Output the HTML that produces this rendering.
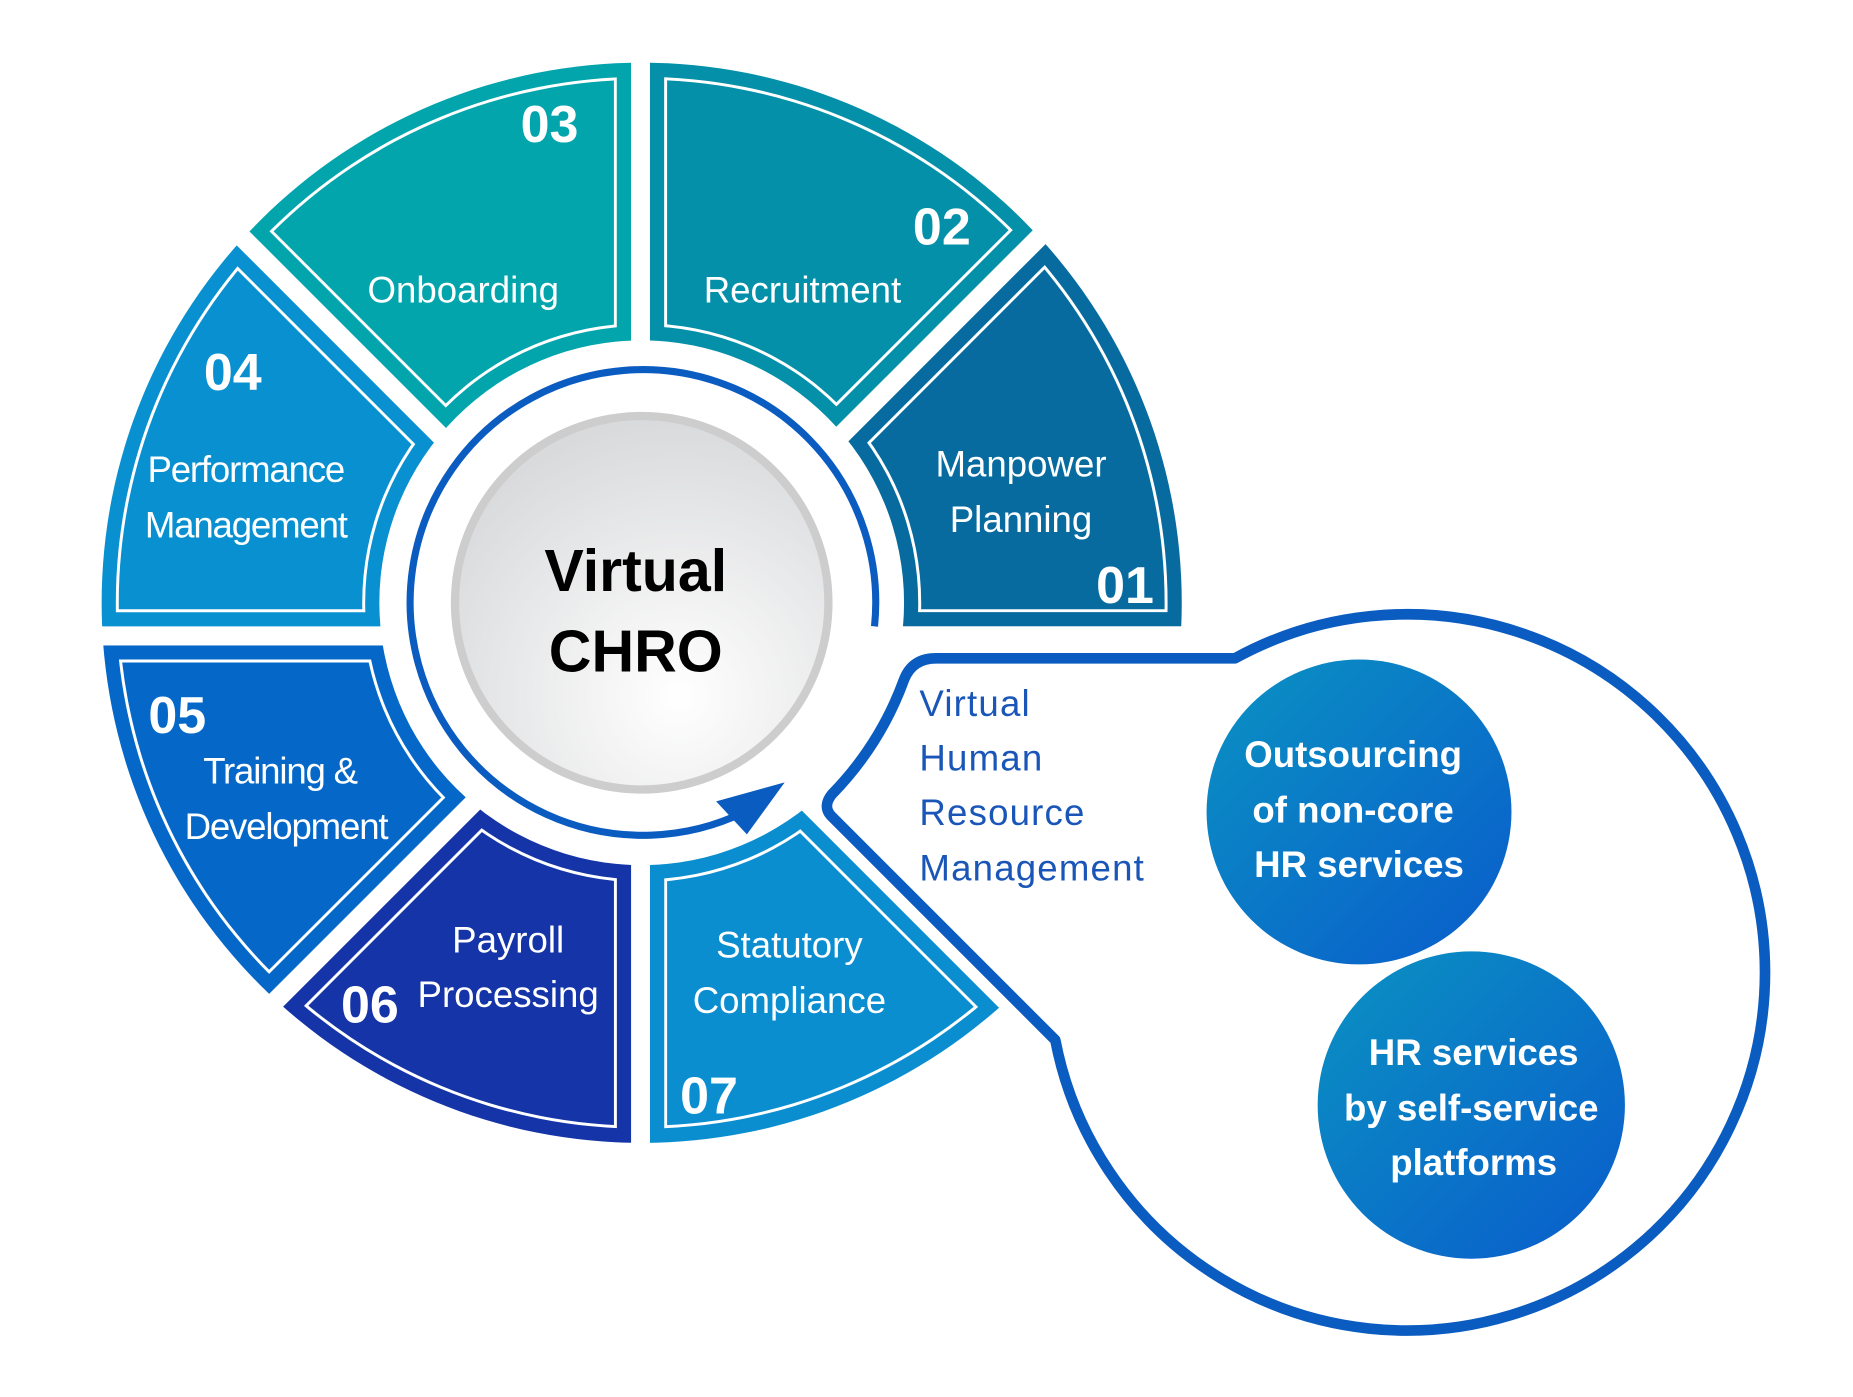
<!DOCTYPE html>
<html><head><meta charset="utf-8"><style>
html,body{margin:0;padding:0;background:#fff}
svg{display:block}
text{font-family:"Liberation Sans","DejaVu Sans",sans-serif}
.l{fill:#fff;font-size:31px;text-anchor:middle}
.n{fill:#fff;font-size:44px;font-weight:bold;text-anchor:middle}
.c{fill:#fff;font-size:31px;font-weight:bold;text-anchor:middle}
.b{fill:#1a56b8;font-size:31px;letter-spacing:1px}
</style></head><body>
<svg width="1853" height="1397" viewBox="0 0 1568 1182" preserveAspectRatio="none" xmlns="http://www.w3.org/2000/svg">
<defs>
<clipPath id="w0a"><polygon transform="translate(542,538) rotate(0)" points="19.3,-8 1219.3,-8 867.8,-856.5"/></clipPath>
<clipPath id="w0b"><polygon transform="translate(542,538) rotate(-45)" points="19.3,-8 1219.3,-8 867.8,-856.5"/></clipPath>
<clipPath id="w0c"><polygon transform="translate(542,538) rotate(-90)" points="19.3,-8 1219.3,-8 867.8,-856.5"/></clipPath>
<clipPath id="w0d"><polygon transform="translate(542,538) rotate(-135)" points="19.3,-8 1219.3,-8 867.8,-856.5"/></clipPath>
<clipPath id="w0e"><polygon transform="translate(542,538) rotate(-180)" points="19.3,-8 1219.3,-8 867.8,-856.5"/></clipPath>
<clipPath id="w0f"><polygon transform="translate(542,538) rotate(-225)" points="19.3,-8 1219.3,-8 867.8,-856.5"/></clipPath>
<clipPath id="w0g"><polygon transform="translate(542,538) rotate(-270)" points="19.3,-8 1219.3,-8 867.8,-856.5"/></clipPath>
<clipPath id="w1a"><polygon transform="translate(542,538) rotate(0)" points="48.3,-20 1248.3,-20 896.8,-868.5"/></clipPath>
<clipPath id="w1b"><polygon transform="translate(542,538) rotate(-45)" points="48.3,-20 1248.3,-20 896.8,-868.5"/></clipPath>
<clipPath id="w1c"><polygon transform="translate(542,538) rotate(-90)" points="48.3,-20 1248.3,-20 896.8,-868.5"/></clipPath>
<clipPath id="w1d"><polygon transform="translate(542,538) rotate(-135)" points="48.3,-20 1248.3,-20 896.8,-868.5"/></clipPath>
<clipPath id="w1e"><polygon transform="translate(542,538) rotate(-180)" points="48.3,-20 1248.3,-20 896.8,-868.5"/></clipPath>
<clipPath id="w1f"><polygon transform="translate(542,538) rotate(-225)" points="48.3,-20 1248.3,-20 896.8,-868.5"/></clipPath>
<clipPath id="w1g"><polygon transform="translate(542,538) rotate(-270)" points="48.3,-20 1248.3,-20 896.8,-868.5"/></clipPath>
<clipPath id="w2a"><polygon transform="translate(542,538) rotate(0)" points="54.3,-22.5 1254.3,-22.5 902.8,-871"/></clipPath>
<clipPath id="w2b"><polygon transform="translate(542,538) rotate(-45)" points="54.3,-22.5 1254.3,-22.5 902.8,-871"/></clipPath>
<clipPath id="w2c"><polygon transform="translate(542,538) rotate(-90)" points="54.3,-22.5 1254.3,-22.5 902.8,-871"/></clipPath>
<clipPath id="w2d"><polygon transform="translate(542,538) rotate(-135)" points="54.3,-22.5 1254.3,-22.5 902.8,-871"/></clipPath>
<clipPath id="w2e"><polygon transform="translate(542,538) rotate(-180)" points="54.3,-22.5 1254.3,-22.5 902.8,-871"/></clipPath>
<clipPath id="w2f"><polygon transform="translate(542,538) rotate(-225)" points="54.3,-22.5 1254.3,-22.5 902.8,-871"/></clipPath>
<clipPath id="w2g"><polygon transform="translate(542,538) rotate(-270)" points="54.3,-22.5 1254.3,-22.5 902.8,-871"/></clipPath>
<path id="r0" fill-rule="evenodd" d="M86,510 a457,457 0 1 0 914,0 a457,457 0 1 0 -914,0 Z M321,510 a222,222 0 1 0 444,0 a222,222 0 1 0 -444,0 Z"/>
<path id="r1" fill-rule="evenodd" d="M98,510 a445,445 0 1 0 890,0 a445,445 0 1 0 -890,0 Z M309,510 a234,234 0 1 0 468,0 a234,234 0 1 0 -468,0 Z"/>
<path id="r2" fill-rule="evenodd" d="M100.5,510 a442.5,442.5 0 1 0 885,0 a442.5,442.5 0 1 0 -885,0 Z M306.5,510 a236.5,236.5 0 1 0 473,0 a236.5,236.5 0 1 0 -473,0 Z"/>
<radialGradient id="cg" cx="0.6" cy="0.75" r="0.8"><stop offset="0" stop-color="#ffffff"/><stop offset="1" stop-color="#d6d7d9"/></radialGradient>
<linearGradient id="bg" x1="0" y1="0" x2="1" y2="1"><stop offset="0" stop-color="#0a92c2"/><stop offset="1" stop-color="#0a5ccc"/></linearGradient>
</defs>
<g>
<use href="#r0" fill="#086b9f" clip-path="url(#w0a)"/><use href="#r1" fill="#fff" clip-path="url(#w1a)"/><use href="#r2" fill="#086b9f" clip-path="url(#w2a)"/>
<use href="#r0" fill="#0490a8" clip-path="url(#w0b)"/><use href="#r1" fill="#fff" clip-path="url(#w1b)"/><use href="#r2" fill="#0490a8" clip-path="url(#w2b)"/>
<use href="#r0" fill="#03a5ad" clip-path="url(#w0c)"/><use href="#r1" fill="#fff" clip-path="url(#w1c)"/><use href="#r2" fill="#03a5ad" clip-path="url(#w2c)"/>
<use href="#r0" fill="#0990d0" clip-path="url(#w0d)"/><use href="#r1" fill="#fff" clip-path="url(#w1d)"/><use href="#r2" fill="#0990d0" clip-path="url(#w2d)"/>
<use href="#r0" fill="#0568c8" clip-path="url(#w0e)"/><use href="#r1" fill="#fff" clip-path="url(#w1e)"/><use href="#r2" fill="#0568c8" clip-path="url(#w2e)"/>
<use href="#r0" fill="#1434a8" clip-path="url(#w0f)"/><use href="#r1" fill="#fff" clip-path="url(#w1f)"/><use href="#r2" fill="#1434a8" clip-path="url(#w2f)"/>
<use href="#r0" fill="#0a8ed0" clip-path="url(#w0g)"/><use href="#r1" fill="#fff" clip-path="url(#w1g)"/><use href="#r2" fill="#0a8ed0" clip-path="url(#w2g)"/>
</g>
<path d="M740,530 A197,197 0 1 0 630,687" fill="none" stroke="#0a5cc0" stroke-width="6"/>
<polygon points="664,662 606,678 632,706" fill="#0a5cc0"/>
<circle cx="543" cy="510" r="158" fill="url(#cg)" stroke="#cdcdcd" stroke-width="7"/>
<text x="538" y="500" font-size="50" font-weight="bold" text-anchor="middle" fill="#000">Virtual</text>
<text x="538" y="568" font-size="50" font-weight="bold" text-anchor="middle" fill="#000">CHRO</text>
<path d="M703,690 Q696,682 704,672 Q745,630 765,575 Q772,557 792,557 L1045,557 A303,303 0 1 1 893,880 Z" fill="#fff" stroke="#0a5cc0" stroke-width="9" stroke-linejoin="round"/>
<circle cx="1150" cy="687" r="129" fill="url(#bg)"/>
<circle cx="1245" cy="935" r="130" fill="url(#bg)"/>
<text class="b" x="778" y="606">Virtual</text>
<text class="b" x="778" y="652">Human</text>
<text class="b" x="778" y="698">Resource</text>
<text class="b" x="778" y="745">Management</text>
<text class="c" x="1145" y="649">Outsourcing</text>
<text class="c" x="1145" y="696">of non-core</text>
<text class="c" x="1150" y="742">HR services</text>
<text class="c" x="1247" y="901">HR services</text>
<text class="c" x="1245" y="948">by self-service</text>
<text class="c" x="1247" y="994">platforms</text>
<text class="n" x="465" y="120">03</text>
<text class="l" x="392" y="256">Onboarding</text>
<text class="n" x="797" y="207">02</text>
<text class="l" x="679" y="256">Recruitment</text>
<text class="l" x="864" y="403">Manpower</text>
<text class="l" x="864" y="450">Planning</text>
<text class="n" x="952" y="510">01</text>
<text class="n" x="197" y="330">04</text>
<text class="l" x="208" y="408" letter-spacing="-1">Performance</text>
<text class="l" x="208" y="455" letter-spacing="-1">Management</text>
<text class="n" x="150" y="620">05</text>
<text class="l" x="237" y="663" letter-spacing="-1">Training &amp;</text>
<text class="l" x="242" y="710" letter-spacing="-1">Development</text>
<text class="l" x="430" y="806">Payroll</text>
<text class="l" x="430" y="852">Processing</text>
<text class="n" x="313" y="865">06</text>
<text class="l" x="668" y="810">Statutory</text>
<text class="l" x="668" y="857">Compliance</text>
<text class="n" x="600" y="942">07</text>
</svg>
</body></html>
